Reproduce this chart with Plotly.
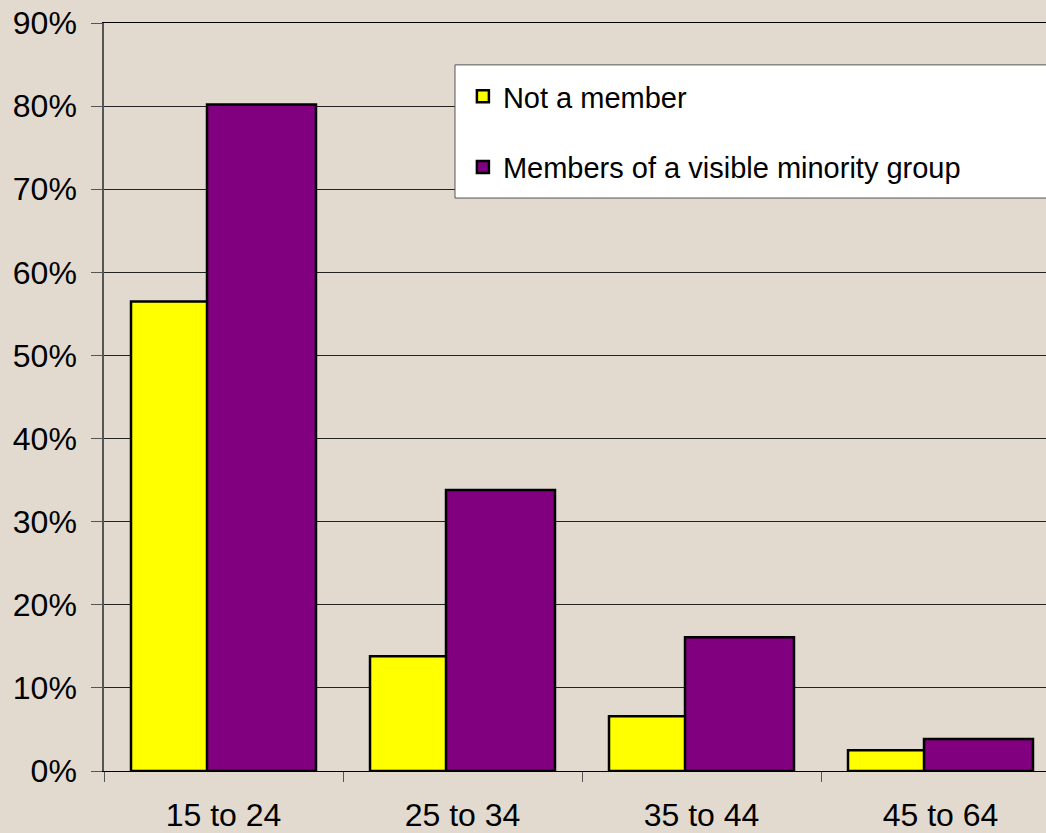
import plotly.graph_objects as go

# Valores (porcentaje)
age_groups = ["15 to 24", "25 to 34", "35 to 44", "45 to 64"]
not_member = [56.5, 13.8, 6.6, 2.5]
visible_minority = [80.2, 33.8, 16.1, 3.85]
y_ticks = [0, 10, 20, 30, 40, 50, 60, 70, 80, 90]
y_tick_labels = [f"{v}%" for v in y_ticks]

BG = "#e3dacf"
FONT = "Liberation Sans, Arial, sans-serif"
BAR_W = 0.456

fig = go.Figure()
fig.add_trace(go.Bar(
    x=age_groups, y=not_member, name="Not a member",
    marker=dict(color="#ffff00", line=dict(color="black", width=2.5)),
    width=BAR_W, offset=-0.387, legendgroup="a",
))
fig.add_trace(go.Bar(
    x=age_groups, y=visible_minority, name="Members of a visible minority group",
    marker=dict(color="#800080", line=dict(color="black", width=2.5)),
    width=BAR_W, offset=-0.069, legendgroup="b",
))

# caja de la leyenda (se sale por la derecha como en el original)
fig.add_shape(type="rect", xref="paper", yref="paper",
              x0=0.3726, x1=1.03, y0=0.766, y1=0.944,
              line=dict(color="#555555", width=1), fillcolor="white", layer="above")

fig.update_layout(
    width=1046, height=833,
    margin=dict(l=104, r=0, t=23, b=62),
    paper_bgcolor=BG, plot_bgcolor=BG,
    font=dict(family=FONT, size=32, color="black"),
    barmode="overlay",
    showlegend=True,
    legend=dict(
        x=0.381, y=0.936, xanchor="left", yanchor="top",
        bgcolor="rgba(0,0,0,0)", borderwidth=0,
        font=dict(size=29), tracegroupgap=30, traceorder="grouped",
    ),
    xaxis=dict(
        range=[-0.5, 3.5 - 14 / 239], showgrid=False, automargin=False,
        ticks="outside", tickson="boundaries", ticklen=10, tickcolor="#555555",
        showline=True, linecolor="black", linewidth=1, mirror=True,
        ticklabelstandoff=16,
    ),
    yaxis=dict(
        range=[0, 90], tickvals=y_ticks, ticktext=y_tick_labels, automargin=False,
        showgrid=True, gridcolor="#222222", gridwidth=1,
        ticks="outside", ticklen=11, tickcolor="#555555",
        showline=True, linecolor="#555555", linewidth=1.5,
        zeroline=False, ticklabelstandoff=8,
    ),
)

# sin margen del body para que el gráfico ocupe la ventana exacta
fig.write_html("out.html", config={"displayModeBar": False},
               post_script="document.body.style.margin='0';")
